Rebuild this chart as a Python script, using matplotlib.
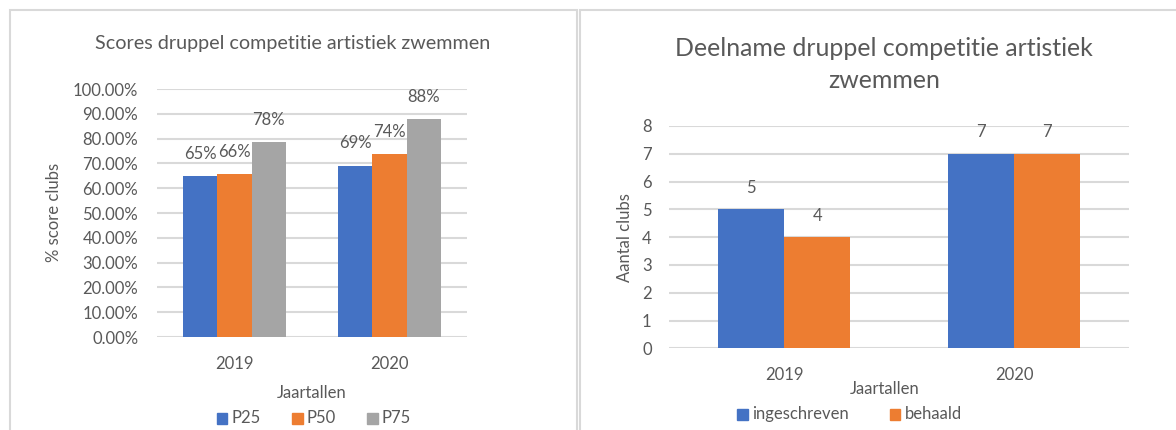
import numpy as np
import matplotlib.pyplot as plt
from matplotlib.patches import Rectangle
from matplotlib.ticker import FuncFormatter

# data
years = ['2019', '2020']
p25 = [0.649, 0.691]
p50 = [0.656, 0.737]
p75 = [0.785, 0.880]
score_labels = [['65%', '69%'], ['66%', '74%'], ['78%', '88%']]
ingeschreven = [5, 7]
behaald = [4, 7]

W, H = 1176, 430
blue, orange, grey = '#4472C4', '#ED7D31', '#A5A5A5'
txt = '#595959'
grid = '#D9D9D9'

plt.rcParams['font.family'] = ['Lato', 'DejaVu Sans']

fig = plt.figure(figsize=(W / 100, H / 100), dpi=100)


def px(x, y):
    return x / W, 1 - y / H


def box(x0, y0, x1, y1):
    return [x0 / W, 1 - y1 / H, (x1 - x0) / W, (y1 - y0) / H]


# chart frames
for x0, x1 in [(10, 577), (580, 1195)]:
    fig.add_artist(Rectangle(px(x0, 450), (x1 - x0) / W, 440 / H,
                             transform=fig.transFigure, fill=False,
                             edgecolor=grid, lw=1.5))


def style(ax):
    for s in ax.spines.values():
        s.set_visible(False)
    ax.yaxis.grid(True, color=grid, lw=1.5)
    ax.set_axisbelow(True)
    ax.tick_params(length=0, colors=txt, labelsize=12)


"""Left chart"""
ax1 = fig.add_axes(box(157, 89, 467, 337))
x = np.arange(len(years))
bw = 0.221
for i, (vals, col) in enumerate([(p25, blue), (p50, orange), (p75, grey)]):
    bars = ax1.bar(x + (i - 1) * bw, vals, bw, color=col)
    for b, lab in zip(bars, score_labels[i]):
        ax1.annotate(lab, (b.get_x() + b.get_width() / 2, b.get_height()),
                     xytext=(0, 16), textcoords='offset points',
                     ha='center', va='center', fontsize=12, color=txt)
ax1.set_xlim(-0.5, 1.5)
ax1.set_ylim(0, 1.0)
ax1.set_yticks(np.arange(0, 1.01, 0.1))
ax1.yaxis.set_major_formatter(FuncFormatter(lambda v, p: f'{v * 100:.2f}%'))
ax1.set_xticks(x, years)
style(ax1)
ax1.tick_params(axis='y', pad=13.5)
ax1.tick_params(axis='x', pad=13.4)

fig.text(*px(292.5, 43), 'Scores druppel competitie artistiek zwemmen',
         ha='center', va='center', fontsize=14.2, color=txt)
fig.text(*px(54, 212.5), '% score clubs', rotation=90,
         ha='center', va='center', fontsize=12, color=txt)
fig.text(*px(312, 392.7), 'Jaartallen', ha='center', va='center',
         fontsize=12, color=txt)
for xm, col, lab in [(216.7, blue, 'P25'), (292.3, orange, 'P50'),
                     (367.3, grey, 'P75')]:
    fig.add_artist(Rectangle(px(xm, 424), 10.3 / W, 10.7 / H,
                             transform=fig.transFigure, color=col))
    fig.text(*px(xm + 14.4, 418), lab, ha='left', va='center',
             fontsize=12, color=txt)

"""Right chart"""
ax2 = fig.add_axes(box(669.3, 126, 1129.3, 348.3))
bw2 = 0.287
for i, (vals, col) in enumerate([(ingeschreven, blue), (behaald, orange)]):
    bars = ax2.bar(x + (i - 0.5) * bw2, vals, bw2, color=col)
    for b in bars:
        ax2.annotate(str(int(b.get_height())),
                     (b.get_x() + b.get_width() / 2, b.get_height()),
                     xytext=(0, 15.5), textcoords='offset points',
                     ha='center', va='center', fontsize=12, color=txt)
ax2.set_xlim(-0.5, 1.5)
ax2.set_ylim(0, 8)
ax2.set_yticks(range(0, 9))
ax2.set_xticks(x, years)
style(ax2)
ax2.tick_params(axis='y', pad=12.7)
ax2.tick_params(axis='x', pad=13.4)

fig.text(*px(884, 48.3), 'Deelname druppel competitie artistiek',
         ha='center', va='center', fontsize=17.9, color=txt)
fig.text(*px(884, 80), 'zwemmen', ha='center', va='center',
         fontsize=17.9, color=txt)
fig.text(*px(625, 237.5), 'Aantal clubs', rotation=90,
         ha='center', va='center', fontsize=12, color=txt)
fig.text(*px(884.8, 389.3), 'Jaartallen', ha='center', va='center',
         fontsize=12, color=txt)
for xm, col, lab in [(737.3, blue, 'ingeschreven'), (890, orange, 'behaald')]:
    fig.add_artist(Rectangle(px(xm, 420), 10.3 / W, 10.7 / H,
                             transform=fig.transFigure, color=col))
    fig.text(*px(xm + 14.4, 414.3), lab, ha='left', va='center',
             fontsize=12, color=txt)

fig.savefig('out.png', dpi=100, facecolor='white')
